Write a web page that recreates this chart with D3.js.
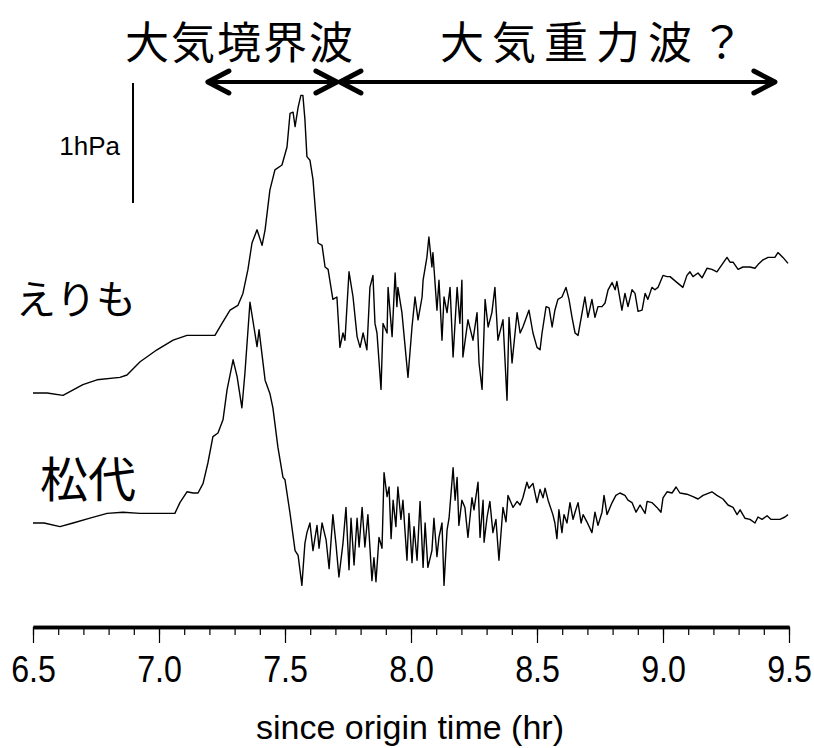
<!DOCTYPE html>
<html>
<head>
<meta charset="utf-8">
<script src="https://cdn.jsdelivr.net/npm/d3@7"></script>
<style>
  body { margin: 0; background: #fff; }
  text { fill: #000; }
</style>
</head>
<body>
<svg id="chart" width="814" height="748"></svg>
<script>
// pressure records, time in hr since origin, pressure in hPa (relative)
var erimoTime = [6.500, 6.556, 6.619, 6.698, 6.754, 6.845, 6.873, 6.925, 6.992, 7.056, 7.111, 7.202, 7.222, 7.250, 7.282,
  7.313, 7.333, 7.353, 7.369, 7.389, 7.409, 7.421, 7.440, 7.460, 7.488, 7.508, 7.520, 7.532, 7.540, 7.552,
  7.563, 7.571, 7.579, 7.587, 7.599, 7.611, 7.631, 7.647, 7.659, 7.671, 7.690, 7.706, 7.718, 7.730, 7.738,
  7.754, 7.770, 7.786, 7.798, 7.810, 7.825, 7.837, 7.849, 7.857, 7.865, 7.881, 7.889, 7.905, 7.909, 7.925,
  7.937, 7.944, 7.948, 7.964, 7.988, 8.004, 8.016, 8.028, 8.044, 8.048, 8.063, 8.071, 8.083, 8.087, 8.103,
  8.111, 8.123, 8.131, 8.143, 8.155, 8.167, 8.183, 8.194, 8.202, 8.206, 8.226, 8.246, 8.262, 8.270, 8.282,
  8.294, 8.306, 8.321, 8.333, 8.345, 8.365, 8.381, 8.389, 8.401, 8.421, 8.433, 8.444, 8.468, 8.484, 8.500,
  8.512, 8.520, 8.536, 8.548, 8.560, 8.571, 8.583, 8.599, 8.615, 8.627, 8.639, 8.651, 8.663, 8.679, 8.690,
  8.702, 8.718, 8.730, 8.742, 8.758, 8.770, 8.782, 8.798, 8.810, 8.817, 8.837, 8.849, 8.861, 8.877, 8.889,
  8.901, 8.917, 8.929, 8.940, 8.956, 8.968, 8.980, 9.000, 9.016, 9.028, 9.056, 9.079, 9.095, 9.107, 9.119,
  9.139, 9.155, 9.175, 9.194, 9.214, 9.234, 9.254, 9.266, 9.278, 9.298, 9.317, 9.345, 9.365, 9.377, 9.397,
  9.417, 9.444, 9.456, 9.476, 9.496];
var erimoHpa = [0.00, 0.00, -0.02, 0.07, 0.11, 0.13, 0.15, 0.26, 0.36, 0.44, 0.48, 0.48, 0.48, 0.58, 0.69,
  0.73, 0.83, 1.03, 1.25, 1.36, 1.23, 1.36, 1.69, 1.86, 1.90, 2.05, 2.33, 2.34, 2.22, 2.38,
  2.48, 2.48, 2.28, 1.97, 1.94, 1.78, 1.25, 1.23, 1.05, 1.03, 0.78, 0.80, 0.38, 0.50, 0.44,
  1.01, 0.80, 0.47, 0.38, 0.50, 0.36, 0.88, 0.98, 0.58, 0.50, 0.03, 0.58, 0.50, 0.88, 0.47,
  1.00, 0.72, 0.88, 0.67, 0.13, 0.55, 0.80, 0.61, 0.80, 0.94, 1.13, 1.30, 1.05, 1.17, 0.69,
  0.94, 0.44, 0.80, 0.67, 0.88, 0.30, 0.88, 0.58, 0.94, 0.30, 0.61, 0.44, 0.67, 0.25, 0.03,
  0.78, 0.55, 0.67, 0.88, 0.44, 0.61, -0.06, 0.63, 0.25, 0.67, 0.50, 0.55, 0.69, 0.50, 0.38,
  0.36, 0.50, 0.72, 0.71, 0.55, 0.69, 0.78, 0.80, 0.88, 0.78, 0.63, 0.50, 0.48, 0.67, 0.80,
  0.63, 0.78, 0.63, 0.72, 0.72, 0.75, 0.86, 0.92, 0.86, 0.93, 0.69, 0.83, 0.72, 0.86, 0.83,
  0.68, 0.69, 0.83, 0.78, 0.88, 0.86, 0.88, 0.98, 0.97, 0.97, 0.92, 0.88, 0.98, 1.01, 0.97,
  1.00, 0.96, 1.04, 1.03, 1.01, 1.07, 1.13, 1.09, 1.09, 1.03, 1.05, 1.05, 1.04, 1.07, 1.11,
  1.13, 1.13, 1.17, 1.13, 1.08];

var matsuTime = [6.500, 6.544, 6.607, 6.659, 6.726, 6.794, 6.857, 6.925, 6.976, 7.032, 7.063, 7.083, 7.111, 7.135, 7.155,
  7.175, 7.194, 7.214, 7.234, 7.254, 7.270, 7.294, 7.310, 7.329, 7.341, 7.361, 7.389, 7.397, 7.421, 7.440,
  7.452, 7.472, 7.492, 7.500, 7.520, 7.540, 7.552, 7.567, 7.579, 7.587, 7.599, 7.611, 7.627, 7.635, 7.647,
  7.663, 7.675, 7.690, 7.702, 7.714, 7.730, 7.742, 7.754, 7.762, 7.774, 7.786, 7.794, 7.806, 7.817, 7.829,
  7.845, 7.853, 7.861, 7.873, 7.885, 7.893, 7.905, 7.913, 7.921, 7.929, 7.940, 7.948, 7.960, 7.968, 7.984,
  7.992, 8.004, 8.012, 8.024, 8.036, 8.048, 8.056, 8.067, 8.083, 8.091, 8.103, 8.111, 8.123, 8.131, 8.143,
  8.151, 8.167, 8.175, 8.183, 8.190, 8.202, 8.214, 8.226, 8.242, 8.250, 8.266, 8.274, 8.286, 8.290, 8.302,
  8.313, 8.325, 8.337, 8.349, 8.365, 8.377, 8.385, 8.405, 8.421, 8.433, 8.444, 8.460, 8.468, 8.484, 8.500,
  8.512, 8.524, 8.532, 8.544, 8.563, 8.571, 8.579, 8.587, 8.599, 8.607, 8.619, 8.631, 8.643, 8.651, 8.663,
  8.675, 8.683, 8.698, 8.718, 8.730, 8.742, 8.758, 8.766, 8.778, 8.798, 8.813, 8.829, 8.849, 8.861, 8.877,
  8.893, 8.909, 8.929, 8.937, 8.956, 8.976, 8.992, 9.000, 9.016, 9.036, 9.052, 9.067, 9.095, 9.119, 9.139,
  9.159, 9.194, 9.214, 9.238, 9.258, 9.278, 9.294, 9.306, 9.325, 9.345, 9.365, 9.377, 9.393, 9.413, 9.429,
  9.444, 9.464, 9.484, 9.496];
var matsuHpa = [0.00, 0.00, -0.03, 0.00, 0.04, 0.08, 0.09, 0.08, 0.08, 0.08, 0.08, 0.17, 0.26, 0.25, 0.25,
  0.33, 0.50, 0.72, 0.75, 0.86, 1.11, 1.36, 1.22, 0.96, 1.25, 1.84, 1.47, 1.61, 1.19, 1.08,
  0.96, 0.63, 0.38, 0.36, 0.08, -0.23, -0.27, -0.52, -0.17, -0.08, 0.00, -0.23, -0.02, -0.21, 0.00,
  -0.14, -0.38, 0.07, -0.17, -0.45, -0.17, 0.13, -0.39, 0.04, -0.35, 0.04, -0.20, 0.13, -0.20, 0.07,
  -0.48, -0.29, -0.49, -0.12, -0.21, 0.42, 0.22, 0.30, -0.13, 0.19, -0.03, 0.30, 0.03, 0.19, -0.31,
  0.08, -0.33, -0.03, -0.31, 0.18, -0.37, 0.00, -0.37, -0.23, 0.04, -0.28, -0.12, 0.00, -0.52, -0.06,
  0.04, 0.46, 0.19, 0.38, -0.02, 0.19, 0.13, -0.12, 0.21, 0.11, 0.34, -0.12, 0.19, -0.16, 0.05,
  0.18, -0.08, 0.03, -0.31, 0.13, 0.01, 0.23, 0.13, 0.18, 0.15, 0.21, 0.34, 0.29, 0.33, 0.17,
  0.28, 0.21, 0.29, 0.19, 0.07, 0.00, -0.13, 0.11, -0.08, 0.07, 0.00, 0.17, 0.03, 0.09, 0.17,
  0.00, 0.07, 0.01, -0.08, 0.09, -0.02, 0.09, 0.23, 0.07, 0.17, 0.23, 0.25, 0.23, 0.19, 0.17,
  0.09, 0.15, 0.08, 0.18, 0.17, 0.13, 0.09, 0.21, 0.26, 0.25, 0.30, 0.25, 0.24, 0.22, 0.20,
  0.23, 0.26, 0.23, 0.20, 0.15, 0.13, 0.07, 0.11, 0.04, 0.03, 0.00, 0.05, 0.03, 0.06, 0.03,
  0.03, 0.03, 0.05, 0.07];

var stationNames = ["えりも", "松代"];
var majorTicks = [6.5, 7.0, 7.5, 8.0, 8.5, 9.0, 9.5];
var minorTicks = d3.range(65, 96).map(function(d) { return d / 10; });
var waveNames = ["大気境界波", "大気重力波？"];
var waveStart = [7.194, 7.718];
var waveEnd = [7.706, 9.444];

var svg = d3.select("#chart");
var latin = "'Liberation Sans', Arial, Helvetica, sans-serif";
var cjk = "'Noto Sans CJK JP', 'Noto Sans', sans-serif";

var x = d3.scaleLinear().domain([6.5, 9.5]).range([33, 789]);
var pxPerHpa = 120;

function stationScale(base) {
  return d3.scaleLinear().domain([0, 1]).range([base, base - pxPerHpa]);
}
var yErimo = stationScale(393);
var yMatsu = stationScale(523);

var series = [
  { t: erimoTime, v: erimoHpa, y: yErimo },
  { t: matsuTime, v: matsuHpa, y: yMatsu }
];

series.forEach(function(s) {
  var pts = s.t.map(function(t, i) { return [t, s.v[i]]; });
  var line = d3.line()
      .x(function(d) { return x(d[0]); })
      .y(function(d) { return s.y(d[1]); });
  svg.append("path")
      .datum(pts)
      .attr("d", line)
      .attr("fill", "none")
      .attr("stroke", "#000")
      .attr("stroke-width", 1.4)
      .attr("stroke-linejoin", "round");
});

// station labels
svg.selectAll("text.station")
    .data(stationNames)
    .enter().append("text")
    .attr("class", "station")
    .attr("x", 136)
    .attr("y", function(d, i) { return i == 0 ? 297 : 476; })
    .attr("text-anchor", "end")
    .attr("dominant-baseline", "central")
    .style("font-family", cjk)
    .style("font-size", function(d, i) { return i == 0 ? "40px" : "48px"; })
    .text(function(d) { return d; });

// 1 hPa scale bar
var yBar = stationScale(203);
svg.append("line")
    .attr("x1", 133).attr("x2", 133)
    .attr("y1", yBar(0)).attr("y2", yBar(1))
    .attr("stroke", "#000").attr("stroke-width", 2);
svg.append("text")
    .attr("x", 120).attr("y", 146)
    .attr("text-anchor", "end")
    .attr("dominant-baseline", "central")
    .style("font-family", latin)
    .style("font-size", "26px")
    .text("1hPa");

// wave labels and arrows
var arrowY = 82;
waveNames.forEach(function(name, i) {
  var x1 = x(waveStart[i]), x2 = x(waveEnd[i]);
  var g = svg.append("g")
      .attr("fill", "none")
      .attr("stroke", "#000")
      .attr("stroke-linecap", "round")
      .attr("stroke-linejoin", "round");
  g.append("line")
      .attr("x1", x1 + 2).attr("x2", x2 - 2)
      .attr("y1", arrowY).attr("y2", arrowY)
      .attr("stroke-width", 4);
  g.append("path")
      .attr("d", "M" + (x1 + 21) + "," + (arrowY - 11) + "L" + x1 + "," + arrowY + "L" + (x1 + 21) + "," + (arrowY + 11))
      .attr("stroke-width", 5);
  g.append("path")
      .attr("d", "M" + (x2 - 21) + "," + (arrowY - 11) + "L" + x2 + "," + arrowY + "L" + (x2 - 21) + "," + (arrowY + 11))
      .attr("stroke-width", 5);
});

var titleX = [240, 596];
var titleSpacing = [2, 8];
waveNames.forEach(function(name, i) {
  svg.append("text")
      .attr("x", titleX[i]).attr("y", 40)
      .attr("text-anchor", "middle")
      .attr("dominant-baseline", "central")
      .style("font-family", cjk)
      .style("font-size", "44px")
      .style("letter-spacing", titleSpacing[i] + "px")
      .text(name);
});

// time axis
var axisY = 627;
var minorAxis = d3.axisBottom(x)
    .tickValues(minorTicks)
    .tickSize(8)
    .tickSizeOuter(0)
    .tickFormat("");
var majorAxis = d3.axisBottom(x)
    .tickValues(majorTicks)
    .tickSize(16)
    .tickSizeOuter(0)
    .tickPadding(13)
    .tickFormat(d3.format(".1f"));

var gMinor = svg.append("g").attr("transform", "translate(0," + axisY + ")").call(minorAxis);
var gMajor = svg.append("g").attr("transform", "translate(0," + axisY + ")").call(majorAxis);
gMinor.select(".domain").attr("stroke-width", 3.5);
gMajor.select(".domain").attr("stroke-width", 3.5);
svg.selectAll(".tick line").attr("stroke-width", 1.2);
gMajor.selectAll(".tick text")
    .style("font-family", latin)
    .style("font-size", "37px")
    .attr("transform", "scale(0.87,1)")
    .attr("fill", "#000");

svg.append("text")
    .attr("x", 410).attr("y", 727)
    .attr("text-anchor", "middle")
    .attr("dominant-baseline", "central")
    .style("font-family", latin)
    .style("font-size", "34px")
    .text("since origin time (hr)");
</script>
</body>
</html>
